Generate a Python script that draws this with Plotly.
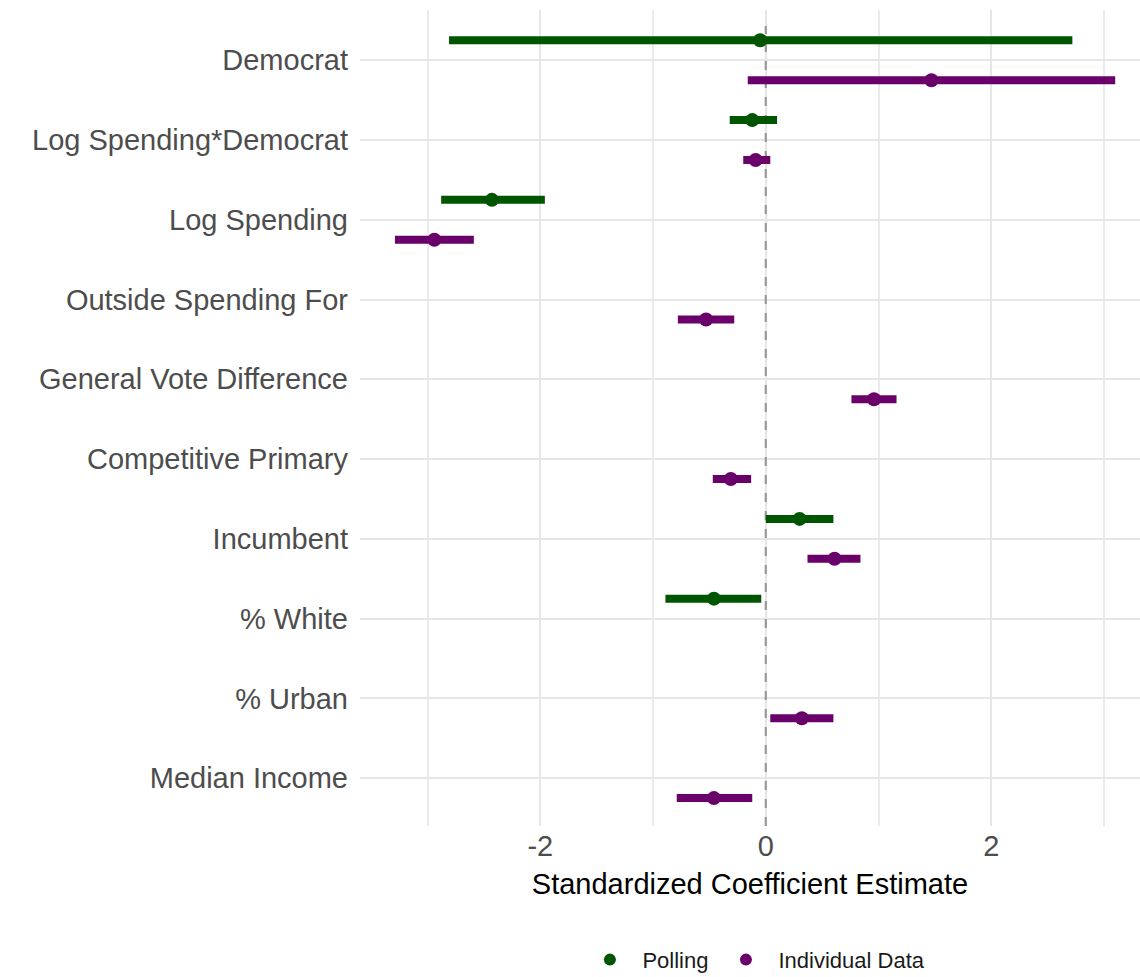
import plotly.graph_objects as go

categories = ["Democrat", "Log Spending*Democrat", "Log Spending", "Outside Spending For",
              "General Vote Difference", "Competitive Primary", "Incumbent", "% White",
              "% Urban", "Median Income"]

# Polling model (None = not in model)
poll_est = [-0.05, -0.12, -2.43, None, None, None, 0.30, -0.46, None, None]
poll_lo = [-2.81, -0.32, -2.88, None, None, None, 0.00, -0.89, None, None]
poll_hi = [2.72, 0.10, -1.96, None, None, None, 0.60, -0.04, None, None]

# Individual data model
ind_est = [1.47, -0.09, -2.94, -0.53, 0.96, -0.31, 0.61, None, 0.32, -0.46]
ind_lo = [-0.16, -0.20, -3.29, -0.78, 0.76, -0.47, 0.37, None, 0.04, -0.79]
ind_hi = [3.10, 0.04, -2.59, -0.28, 1.16, -0.13, 0.84, None, 0.60, -0.12]

x_ticks = [-2, 0, 2]
x_tick_labels = ["-2", "0", "2"]
ref_x = 0

GREEN = "#005500"
PURPLE = "#6a006a"
n = len(categories)
pos = [n - i for i in range(n)]
dodge = 0.25
y_range = [0.4, 10.63]

fig = go.Figure()

# reference line at zero, drawn first so it lies under the estimates
fig.add_trace(go.Scatter(
    x=[ref_x, ref_x], y=[y_range[0], y_range[1] - 0.2], mode="lines", showlegend=False,
    hoverinfo="skip", line=dict(color="#999999", width=2.2, dash="dash"),
))


def add_series(name, est, lo, hi, color, offset):
    xs, ys, ep, em = [], [], [], []
    for p, e, l, h in zip(pos, est, lo, hi):
        if e is None:
            continue
        xs.append(e)
        ys.append(p + offset)
        ep.append(h - e)
        em.append(e - l)
    fig.add_trace(go.Scatter(
        x=xs, y=ys, mode="markers", name=name,
        marker=dict(color=color, size=14),
        error_x=dict(type="data", symmetric=False, array=ep, arrayminus=em,
                     color=color, thickness=8, width=0),
    ))


add_series("Polling", poll_est, poll_lo, poll_hi, GREEN, dodge)
add_series("Individual Data", ind_est, ind_lo, ind_hi, PURPLE, -dodge)

fig.update_layout(
    width=1140, height=977,
    margin=dict(l=360, r=0, t=10, b=151, autoexpand=False),
    plot_bgcolor="white", paper_bgcolor="white",
    font=dict(family="Liberation Sans, Arial, sans-serif", color="#4d4d4d"),
    showlegend=True,
    legend=dict(orientation="h", x=0.505, xanchor="center", y=-0.164,
                yanchor="middle", font=dict(size=22, color="#1a1a1a"),
                itemsizing="constant", itemwidth=55),
    xaxis=dict(
        range=[-3.6, 3.32], tickvals=x_ticks, ticktext=x_tick_labels,
        showgrid=True, gridcolor="#e6e6e6", gridwidth=2, zeroline=False,
        tickfont=dict(size=29, color="#4d4d4d"), ticks="", automargin=False,
        minor=dict(tickvals=[-3, -1, 1, 3], showgrid=True, gridcolor="#ebebeb", gridwidth=1.5),
        title=dict(text="Standardized Coefficient Estimate", font=dict(size=29, color="#000000"),
                   standoff=12),
        showline=False,
    ),
    yaxis=dict(
        range=y_range, tickvals=pos, ticktext=categories, automargin=False,
        showgrid=True, gridcolor="#e6e6e6", gridwidth=2, zeroline=False,
        tickfont=dict(size=29, color="#4d4d4d"), ticks="", ticklabelstandoff=11,
    ),
)

fig.write_html("out.html")
